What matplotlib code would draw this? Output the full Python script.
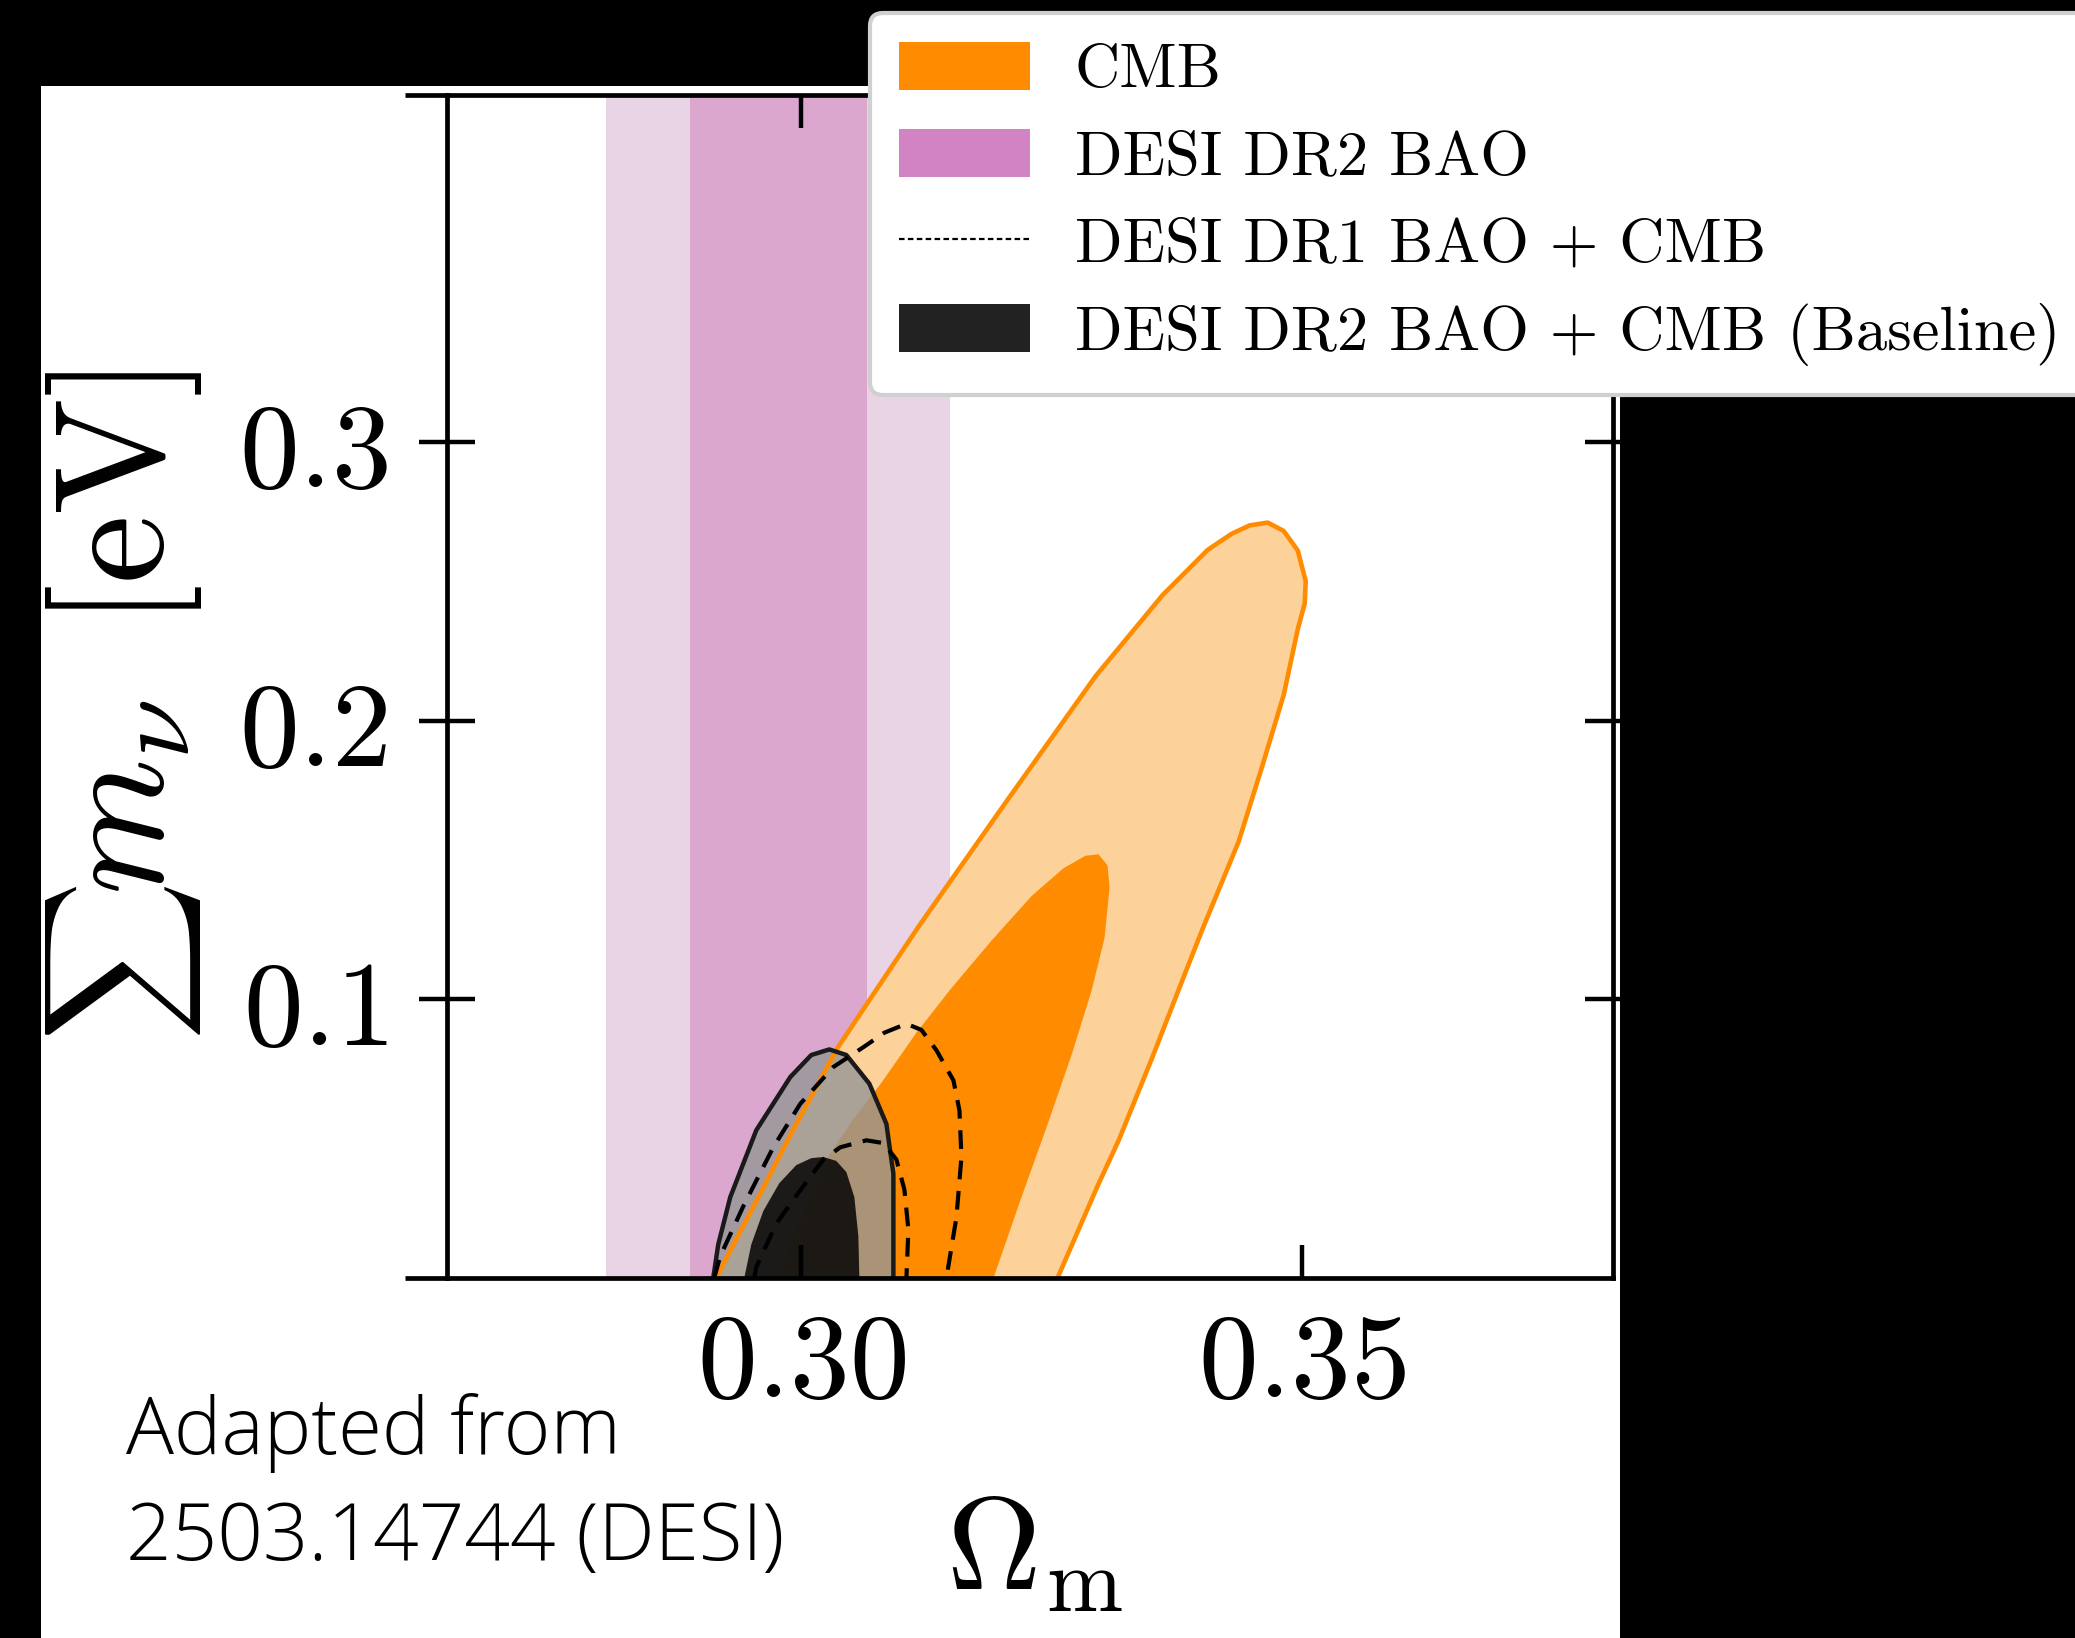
import matplotlib
matplotlib.use('Agg')
import matplotlib.pyplot as plt
from matplotlib.patches import Rectangle, Patch
from matplotlib.lines import Line2D

plt.rcParams['mathtext.fontset'] = 'cm'

# ---------------- data ----------------
x_ticks = [0.30, 0.35]
x_tick_labels = ['0.30', '0.35']
y_ticks = [0.1, 0.2, 0.3]
y_tick_labels = ['0.1', '0.2', '0.3']
x_limits = [0.2646, 0.3811]
y_limits = [0.0, 0.4244]

# DESI DR2 BAO bands (Omega_m)
bao_1sigma = [0.2889, 0.3066]
bao_2sigma = [0.2805, 0.3149]

# CMB contours
cmb_outer_x = [0.2915, 0.2935, 0.2960, 0.2990, 0.3037, 0.3117, 0.3205, 0.3294, 0.3361, 0.3406,
               0.3430, 0.3448, 0.3466, 0.3482, 0.3496, 0.3504, 0.3503, 0.3496, 0.3482, 0.3460,
               0.3437, 0.3401, 0.3384, 0.3350, 0.3317, 0.3296, 0.3256]
cmb_outer_y = [0.0, 0.0140, 0.0310, 0.0520, 0.0830, 0.1260, 0.1710, 0.2159, 0.2450, 0.2612,
               0.2670, 0.2700, 0.2710, 0.2680, 0.2610, 0.2500, 0.2420, 0.2327, 0.2092, 0.1830,
               0.1566, 0.1253, 0.1098, 0.0785, 0.0493, 0.0330, 0.0]
cmb_inner_x = [0.2976, 0.2998, 0.3023, 0.3050, 0.3080, 0.3115, 0.3150, 0.3190, 0.3230, 0.3262,
               0.3284, 0.3297, 0.3306, 0.3308, 0.3303, 0.3290, 0.3270, 0.3245, 0.3220, 0.3192]
cmb_inner_y = [0.0, 0.0200, 0.0414, 0.0560, 0.0700, 0.0880, 0.1040, 0.1210, 0.1370, 0.1470,
               0.1515, 0.1520, 0.1480, 0.1400, 0.1220, 0.1030, 0.0800, 0.0540, 0.0290, 0.0]

# DESI DR2 BAO + CMB (Baseline)
base_outer_x = [0.2912, 0.2917, 0.2929, 0.2955, 0.2989, 0.3010, 0.3028, 0.3045, 0.3068,
                0.3085, 0.3092, 0.3092]
base_outer_y = [0.0, 0.0120, 0.0290, 0.0530, 0.0721, 0.0800, 0.0820, 0.0800, 0.0697,
                0.0553, 0.0374, 0.0]
base_inner_x = [0.2943, 0.2950, 0.2962, 0.2978, 0.2995, 0.3010, 0.3022, 0.3035, 0.3045,
                0.3053, 0.3057, 0.3058]
base_inner_y = [0.0, 0.0120, 0.0240, 0.0340, 0.0405, 0.0430, 0.0434, 0.0420, 0.0380,
                0.0290, 0.0150, 0.0]

# DESI DR1 BAO + CMB (dashed)
dr1_outer_x = [0.2913, 0.2919, 0.2942, 0.2972, 0.2999, 0.3032, 0.3062, 0.3083, 0.3105,
               0.3120, 0.3135, 0.3152, 0.3158, 0.3160, 0.3155, 0.3145]
dr1_outer_y = [0.0, 0.0078, 0.0257, 0.0469, 0.0625, 0.0757, 0.0828, 0.0880, 0.0912,
               0.0890, 0.0817, 0.0709, 0.0601, 0.0434, 0.0218, 0.0]
dr1_inner_x = [0.2953, 0.2955, 0.2975, 0.2999, 0.3022, 0.3039, 0.3065, 0.3082, 0.3095,
               0.3103, 0.3107, 0.3105]
dr1_inner_y = [0.0, 0.0039, 0.0195, 0.0315, 0.0425, 0.0469, 0.0494, 0.0484, 0.0425,
               0.0317, 0.0173, 0.0]

legend_labels = ['CMB', 'DESI DR2 BAO', 'DESI DR1 BAO + CMB', 'DESI DR2 BAO + CMB (Baseline)']

# ---------------- figure ----------------
W, H = 2075, 1638
fig = plt.figure(figsize=(W / 100, H / 100), dpi=100, facecolor='black')
fig.patches.append(Rectangle((41 / W, 0), (1620 - 41) / W, 1 - 86 / H,
                             transform=fig.transFigure, fc='white', ec='none', zorder=-5))

ax_l, ax_r, ax_b, ax_t = 447, 1613, 1278, 95
AW, AH = ax_r - ax_l, ax_b - ax_t
ax = fig.add_axes([ax_l / W, 1 - ax_b / H, AW / W, AH / H])
ax.set_zorder(2)
ax.set_xlim(x_limits)
ax.set_ylim(y_limits)

c_orange = '#FF8C00'
c_lorange = '#FDD29A'
ax.axvspan(bao_2sigma[0], bao_2sigma[1], color='#E9D4E6', lw=0, zorder=0.5)
ax.axvspan(bao_1sigma[0], bao_1sigma[1], color='#DBA7CF', lw=0, zorder=0.6)

ax.fill(cmb_outer_x, cmb_outer_y, color=c_lorange, lw=0, zorder=1.0)
ax.fill(cmb_inner_x, cmb_inner_y, color=c_orange, lw=0, zorder=1.1)

ax.fill(base_outer_x, base_outer_y, color='#969696', alpha=0.8, lw=0, zorder=1.3)
ax.fill(base_inner_x, base_inner_y, color='#050403', alpha=0.86, lw=0, zorder=1.4)

ax.plot(cmb_outer_x, cmb_outer_y, color=c_orange, lw=3.3, zorder=1.6, solid_joinstyle='round')
ax.plot(base_outer_x, base_outer_y, color='#1a1a1a', lw=3.2, zorder=1.8, solid_joinstyle='round')

ax.plot(dr1_outer_x, dr1_outer_y, color='k', lw=3.0, ls=(0, (4.5, 2.8)), zorder=2.0)
ax.plot(dr1_inner_x, dr1_inner_y, color='k', lw=3.0, ls=(0, (4.5, 2.8)), zorder=2.0)

# spines & ticks
for s in ax.spines.values():
    s.set_linewidth(3.4)
ext = 42 / AW
for yy in (0, 1):
    ax.plot([-ext, 0], [yy, yy], transform=ax.transAxes, color='k', lw=3.4,
            clip_on=False, solid_capstyle='butt', zorder=3)

ax.set_xticks(x_ticks)
ax.set_xticklabels(['$' + t + '$' for t in x_tick_labels])
ax.set_yticks(y_ticks)
ax.set_yticklabels(['$' + t + '$' for t in y_tick_labels])
ax.tick_params(axis='x', direction='in', top=True, bottom=True, length=24, width=3.2,
               pad=20, labelsize=86)
ax.tick_params(axis='y', direction='inout', left=True, right=True, length=41, width=3.2,
               pad=22, labelsize=86)

ax.set_xlabel(r'$\Omega_\mathrm{m}$', fontsize=94)
ax.xaxis.set_label_coords(0.504, -0.179)

ax.set_ylabel(r'$m_\nu\ \,[\mathrm{eV}]$', fontsize=112, va='baseline')
ax.yaxis.set_label_coords((163 - ax_l) / AW, (ax_b - 633) / AH)
ax.text((123.5 - ax_l) / AW, (ax_b - 963) / AH, r'$\sum$', transform=ax.transAxes,
        rotation=90, rotation_mode='anchor', ha='center', va='center', fontsize=80,
        clip_on=False)

# legend
handles = [Patch(facecolor=c_orange, edgecolor='none'),
           Patch(facecolor='#D283C4', edgecolor='none'),
           Line2D([], [], color='k', lw=1.6, ls=(0, (2.5, 1.5))),
           Patch(facecolor='#222222', edgecolor='none')]
leg = fig.legend(handles, legend_labels, loc='upper left',
                 bbox_to_anchor=(870 / W, 1 - 13 / H), bbox_transform=fig.transFigure,
                 borderaxespad=0, prop={'family': 'cmr10', 'size': 45},
                 handlelength=2.1, handleheight=0.8, handletextpad=0.72,
                 labelspacing=0.47, borderpad=0.46, framealpha=1, fancybox=True)
leg.get_frame().set_edgecolor('#D0D0D0')
leg.get_frame().set_linewidth(3)
leg.set_zorder(20)

# annotation
for txt, yb in (('Adapted from', 1454), ('2503.14744 (DESI)', 1560)):
    fig.text(126 / W, 1 - yb / H, txt, fontsize=57.5, family=['Open Sans', 'Liberation Sans'],
             fontweight='light', color='black', va='baseline', ha='left')

fig.savefig('out.png', dpi=100, facecolor='black')
